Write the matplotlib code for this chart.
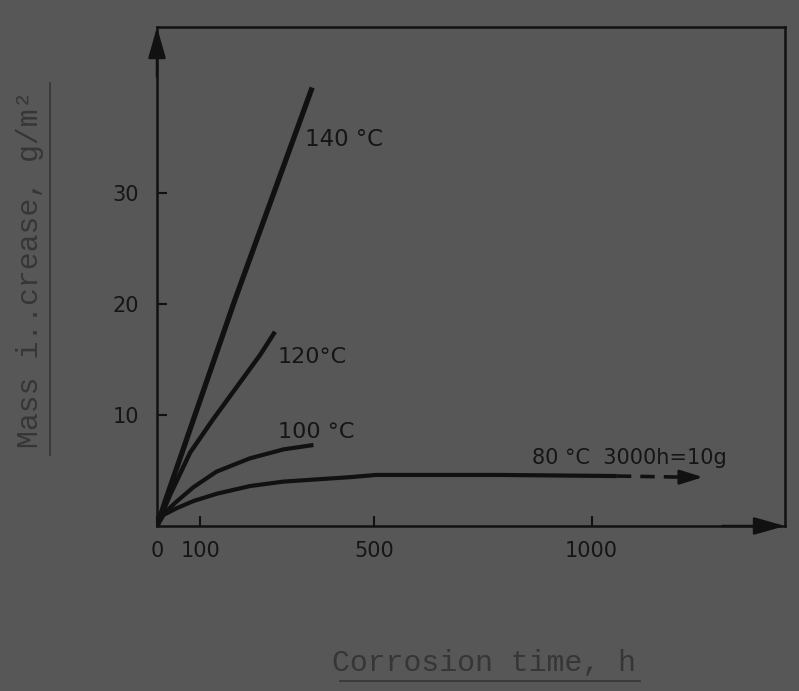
import numpy as np
import matplotlib.pyplot as plt
from matplotlib.lines import Line2D

# ------------------------------------------
# Data
# ------------------------------------------
t140 = [0, 22, 57.5, 83, 179.5, 357]
m140 = [0, 2.6, 6.6, 9.5, 20.4, 39.5]

t120 = [0, 30, 76, 127, 237, 271.5]
m120 = [0, 2.8, 6.6, 9.5, 15.4, 17.5]

t100 = [0, 15, 45, 84, 137, 214, 291, 360]
m100 = [0, 1.1, 2.2, 3.5, 4.9, 6.1, 6.9, 7.3]

t80 = [0, 15, 45, 84, 137, 214, 291, 444, 504, 789, 1058]
m80 = [0, 1.0, 1.6, 2.25, 2.9, 3.6, 4.0, 4.4, 4.6, 4.6, 4.5]

t80_ext = [1058, 1256]
m80_ext = [4.5, 4.4]

xticks = [0, 100, 500, 1000]
yticks = [10, 20, 30]

bg = "#575757"
ink = "#111111"

fig = plt.figure(figsize=(7.99, 6.91), dpi=100)
fig.patch.set_facecolor(bg)
ax = fig.add_axes([0.1965, 1 - 526 / 691, 0.786, (526 - 27) / 691])
ax.set_facecolor(bg)

ax.plot(t140, m140, color=ink, lw=3.8, solid_capstyle="butt")
ax.plot(t120, m120, color=ink, lw=3.2, solid_capstyle="butt")
ax.plot(t100, m100, color=ink, lw=3.0, solid_capstyle="butt")
ax.plot(t80, m80, color=ink, lw=3.0, solid_capstyle="butt")
ax.plot([t80_ext[0], t80_ext[1] - 40], m80_ext, color=ink, lw=2.6,
        dashes=(4, 2.5))
ax.annotate("", xy=(t80_ext[1], m80_ext[1]), xytext=(t80_ext[1] - 45, m80_ext[1]),
            arrowprops=dict(arrowstyle="-|>,head_length=0.7,head_width=0.22",
                            color=ink, lw=2, shrinkA=0, shrinkB=0,
                            mutation_scale=20))

# curve labels
lab = dict(color="#151515", fontfamily="DejaVu Sans")
ax.text(340, 34.8, "140 °C", fontsize=16.5, va="center", ha="left", **lab)
ax.text(278, 15.2, "120°C", fontsize=16, va="center", ha="left", **lab)
ax.text(278, 8.5, "100 °C", fontsize=16, va="center", ha="left", **lab)
ax.text(863, 5.2, "80 °C  3000h=10g", fontsize=15, va="bottom", ha="left", **lab)

ax.set_xlim(0, 1445)
ax.set_ylim(0, 499 / 11.1)
ax.set_xticks(xticks)
ax.set_xticklabels([str(v) for v in xticks])
ax.set_yticks(yticks)
ax.set_yticklabels([str(v) for v in yticks])
ax.tick_params(axis="both", direction="in", length=7, width=1.5, color=ink,
               labelsize=15, labelcolor="#151515")
ax.tick_params(axis="x", pad=11)
ax.tick_params(axis="y", pad=13)

for s in ax.spines.values():
    s.set_color(ink)
    s.set_linewidth(1.8)

# arrow heads on the two axes
arr = dict(arrowstyle="-|>,head_length=0.95,head_width=0.27", color=ink,
           lw=1.8, shrinkA=0, shrinkB=0, mutation_scale=20)
ax.annotate("", xy=(0, 1), xytext=(0, 0.9), xycoords="axes fraction",
            arrowprops=arr)
ax.annotate("", xy=(1, 0), xytext=(0.9, 0), xycoords="axes fraction",
            arrowprops=arr)

# axis titles, typewriter style and underlined
ttl = dict(fontfamily="Liberation Mono", fontsize=21.5, color="#363636")
fig.text(0.038, 0.61, "Mass i..crease, g/m²", rotation=90,
         ha="center", va="center", **ttl)
fig.text(0.606, 0.040, "Corrosion time, h", ha="center", va="center", **ttl)
fig.add_artist(Line2D([0.063, 0.063], [1 - 455 / 691, 1 - 83 / 691],
                      color="#363636", lw=1.2))
fig.add_artist(Line2D([340 / 799, 640 / 799], [1 - 681 / 691, 1 - 681 / 691],
                      color="#363636", lw=1.2))

fig.savefig("out.png", dpi=100, facecolor=bg)
